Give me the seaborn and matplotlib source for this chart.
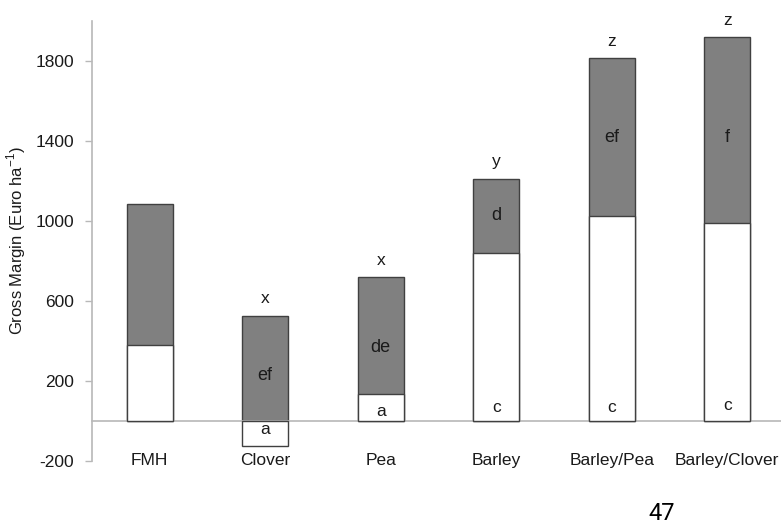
import numpy as np
import pandas as pd
import matplotlib
matplotlib.use("Agg")
import matplotlib.pyplot as plt
import seaborn as sns

# Crops and gross margin components (Euro per ha)
crops = ["FMH", "Clover", "Pea", "Barley", "Barley/Pea", "Barley/Clover"]
base_margin = [378, -123, 133, 840, 1027, 992]       # white (lower) segment
added_margin = [707, 525, 585, 372, 786, 926]        # grey (upper) segment

# Significance letters
top_letters = ["", "x", "x", "y", "z", "z"]
grey_letters = ["", "ef", "de", "d", "ef", "f"]
grey_letter_y = [0, 230, 370, 1025, 1415, 1415]
white_letters = ["", "a", "a", "c", "c", "c"]
white_letter_y = [0, -45, 47, 70, 70, 80]

yticks = [-200, 200, 600, 1000, 1400, 1800]

sns.set_theme(style="white")
plt.rcParams["font.family"] = ["Liberation Sans", "DejaVu Sans"]
plt.rcParams["mathtext.fontset"] = "custom"
plt.rcParams["mathtext.rm"] = "Liberation Sans"

# stacked top of each bar: grey segment starts at 0 when the base is negative
top = [max(b, 0) + a for b, a in zip(base_margin, added_margin)]
df = pd.DataFrame({"crop": crops, "base": base_margin, "top": top})

fig = plt.figure(figsize=(7.81, 5.24), dpi=100)
ax = fig.add_axes([92 / 781, 63 / 524, 693 / 781, 440 / 524])

edge = "#404040"
sns.barplot(data=df, x="crop", y="top", color="#808080", edgecolor=edge,
            linewidth=1.0, width=0.4, saturation=1, ax=ax, zorder=2)
sns.barplot(data=df, x="crop", y="base", color="white", edgecolor=edge,
            linewidth=1.0, width=0.4, saturation=1, ax=ax, zorder=3)

ax.set_xlim(-0.5, 5.5)
ax.set_ylim(-200, 2000)
ax.set_yticks(yticks)
ax.set_yticklabels([str(t) for t in yticks], fontsize=12.5, color="#1a1a1a")

# category axis drawn along the zero line
ax.spines["bottom"].set_position(("data", 0))
for s in ["top", "right"]:
    ax.spines[s].set_visible(False)
for s in ["left", "bottom"]:
    ax.spines[s].set_color("#b8b8b8")
    ax.spines[s].set_linewidth(1.2)
ax.spines["left"].set_zorder(4)

ax.set_xticks(range(len(crops)))
ax.set_xticklabels(crops, fontsize=12.5, color="#1a1a1a")
ax.set_xticks(np.arange(-0.5, len(crops), 1.0), minor=True)
ax.tick_params(axis="x", which="major", length=0, pad=23)
ax.tick_params(axis="x", which="minor", length=5, width=1, color="#b8b8b8",
               direction="out")
ax.tick_params(axis="y", which="major", length=5, width=1, color="#b8b8b8",
               direction="out", pad=8, left=True)

ax.set_xlabel("")
ax.set_ylabel(r"Gross Margin (Euro ha$^{\mathregular{-1}}$)", fontsize=12,
              color="#1a1a1a", labelpad=5)

# letters above and inside the bars
for i in range(len(crops)):
    if top_letters[i]:
        ax.annotate(top_letters[i], (i, top[i]), xytext=(0, 7),
                    textcoords="offset points", ha="center", va="bottom",
                    fontsize=12.5, color="#1a1a1a")
    if grey_letters[i]:
        ax.text(i, grey_letter_y[i], grey_letters[i], ha="center",
                va="center", fontsize=13, color="#1a1a1a", zorder=5)
    if white_letters[i]:
        ax.text(i, white_letter_y[i], white_letters[i], ha="center",
                va="center", fontsize=12.5, color="#1a1a1a", zorder=5)

# page number
fig.text(662 / 781, 1 - 513 / 524, "47", ha="center", va="center",
         fontsize=17, family="Roboto", color="black")

fig.savefig("out.png", dpi=100)
